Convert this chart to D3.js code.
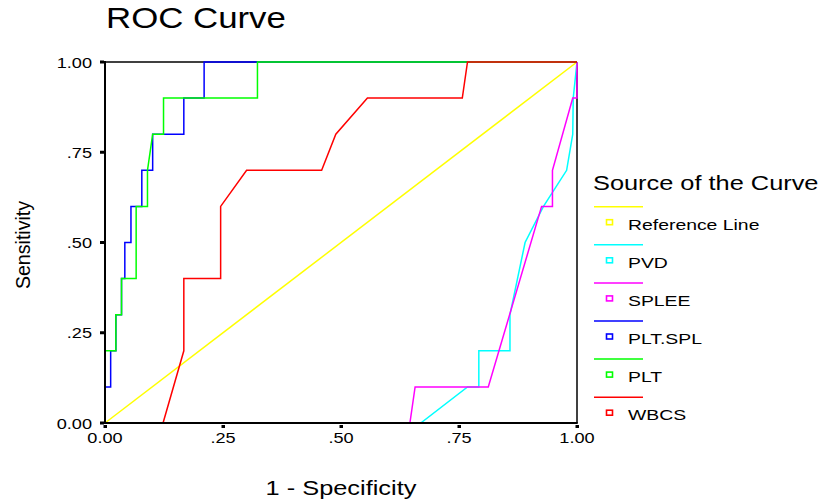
<!DOCTYPE html>
<html><head><meta charset="utf-8">
<script src="https://cdn.jsdelivr.net/npm/d3@7/dist/d3.min.js"></script>
<style>body{margin:0;background:#fff}text{font-family:"Liberation Sans",Arial,sans-serif;fill:#000}</style>
</head><body><svg id="c" width="825" height="500"></svg>
<script>
const seriesNames = ["Reference Line","PVD","SPLEE","PLT.SPL","PLT","WBCS"];
const seriesColors = ["#ffff00","#00ffff","#ff00ff","#0000ff","#00ff00","#ff0000"];
const refX = [0,1];
const refY = [0,1];
const pvdX = [0,0.669,0.768,0.792,0.792,0.858,0.858,0.890,0.929,0.978,0.991,0.992,1];
const pvdY = [0,0,0.1,0.1,0.2,0.2,0.3,0.5,0.6,0.7,0.8,0.9,1];
const spleeX = [0,0.646,0.657,0.812,0.925,0.948,0.948,0.991,1,1];
const spleeY = [0,0,0.1,0.1,0.6,0.6,0.7,0.9,0.9,1];
const pltsplX = [0,0,0.012,0.012,0.023,0.023,0.035,0.035,0.042,0.042,0.055,0.055,0.078,0.078,0.101,0.101,0.167,0.167,0.210,0.210,1];
const pltsplY = [0,0.1,0.1,0.2,0.2,0.3,0.3,0.4,0.4,0.5,0.5,0.6,0.6,0.7,0.7,0.8,0.8,0.9,0.9,1,1];
const pltX = [0,0,0.023,0.023,0.035,0.035,0.066,0.066,0.090,0.090,0.101,0.124,0.124,0.323,0.323,1];
const pltY = [0,0.2,0.2,0.3,0.3,0.4,0.4,0.6,0.6,0.7,0.8,0.8,0.9,0.9,1,1];
const wbcsX = [0,0.123,0.167,0.167,0.245,0.245,0.300,0.459,0.489,0.556,0.757,0.768,1];
const wbcsY = [0,0,0.2,0.4,0.4,0.6,0.7,0.7,0.8,0.9,0.9,1,1];
const tickValues = [0,0.25,0.5,0.75,1];
const tickLabels = ["0.00",".25",".50",".75","1.00"];
const xTickLabels = ["0.00",".25",".50",".75","1.00"];

const curves = [[refX,refY],[pvdX,pvdY],[spleeX,spleeY],[pltsplX,pltsplY],[pltX,pltY],[wbcsX,wbcsY]];

const svg = d3.select("#c");
const x = d3.scaleLinear().domain([0,1]).range([105,577]);
const y = d3.scaleLinear().domain([0,1]).range([423,62]);

function stretch(sel, f){
  sel.each(function(){ const n=this; const w=n.getComputedTextLength(); n.setAttribute("textLength", w*f); n.setAttribute("lengthAdjust","spacingAndGlyphs"); });
}

// frame (top/right under curves)
svg.append("line").attr("x1",x(0)).attr("x2",x(1)).attr("y1",y(1)).attr("y2",y(1)).attr("stroke","#000").attr("stroke-width",1.5);
svg.append("line").attr("x1",x(1)).attr("x2",x(1)).attr("y1",y(1)).attr("y2",y(0)).attr("stroke","#000").attr("stroke-width",1.5);

// curves
const line = d3.line().x(d=>x(d[0])).y(d=>y(d[1]));
curves.forEach((c,i)=>{
  const pts = c[0].map((v,j)=>[v,c[1][j]]);
  svg.append("path").attr("d",line(pts)).attr("fill","none").attr("stroke",seriesColors[i]).attr("stroke-width",1.5);
});

// left & bottom axes on top
svg.append("line").attr("x1",x(0)).attr("x2",x(0)).attr("y1",y(1)-1).attr("y2",y(0)+1).attr("stroke","#000").attr("stroke-width",2);
svg.append("line").attr("x1",x(0)-1).attr("x2",x(1)+0.75).attr("y1",y(0)).attr("y2",y(0)).attr("stroke","#000").attr("stroke-width",2);

// ticks
svg.selectAll(".yt").data(tickValues).join("rect").attr("x",x(0)-5).attr("y",d=>y(d)-1.5).attr("width",4).attr("height",3).attr("fill","#000");
svg.selectAll(".xt").data(tickValues).join("rect").attr("x",d=>x(d)-1.5).attr("y",y(0)+2).attr("width",3.5).attr("height",3).attr("fill","#000");

const yl = svg.selectAll(".yl").data(tickValues).join("text").attr("x",x(0)-13).attr("y",d=>y(d)+5.5)
  .attr("text-anchor","end").attr("font-size",14.5).text((d,i)=>tickLabels[i]);
stretch(yl,1.25);
const xl = svg.selectAll(".xl").data(tickValues).join("text").attr("x",d=>x(d)).attr("y",y(0)+20)
  .attr("text-anchor","middle").attr("font-size",14.5).text((d,i)=>xTickLabels[i]);
stretch(xl,1.25);

// title and axis labels
stretch(svg.append("text").attr("x",106).attr("y",28).attr("font-size",29).text("ROC Curve"),1.2);
stretch(svg.append("text").attr("x",341).attr("y",495).attr("text-anchor","middle").attr("font-size",19.5).text("1 - Specificity"),1.3);
stretch(svg.append("text").attr("transform","translate(30,245) rotate(-90)").attr("text-anchor","middle").attr("font-size",20).text("Sensitivity"),0.98);

// legend
stretch(svg.append("text").attr("x",593).attr("y",190).attr("font-size",19.5).text("Source of the Curve"),1.3);
const lg = svg.selectAll(".lg").data(seriesNames).join("g").attr("transform",(d,i)=>`translate(0,${206.7+i*38.1})`);
lg.append("line").attr("x1",594).attr("x2",643).attr("y1",0).attr("y2",0).attr("stroke",(d,i)=>seriesColors[i]).attr("stroke-width",1.5);
lg.append("rect").attr("x",606.5).attr("y",13).attr("width",6).attr("height",5).attr("fill","none").attr("stroke",(d,i)=>seriesColors[i]).attr("stroke-width",1.6);
stretch(lg.append("text").attr("x",628).attr("y",23).attr("font-size",15.5).text(d=>d),1.25);
</script></body></html>
